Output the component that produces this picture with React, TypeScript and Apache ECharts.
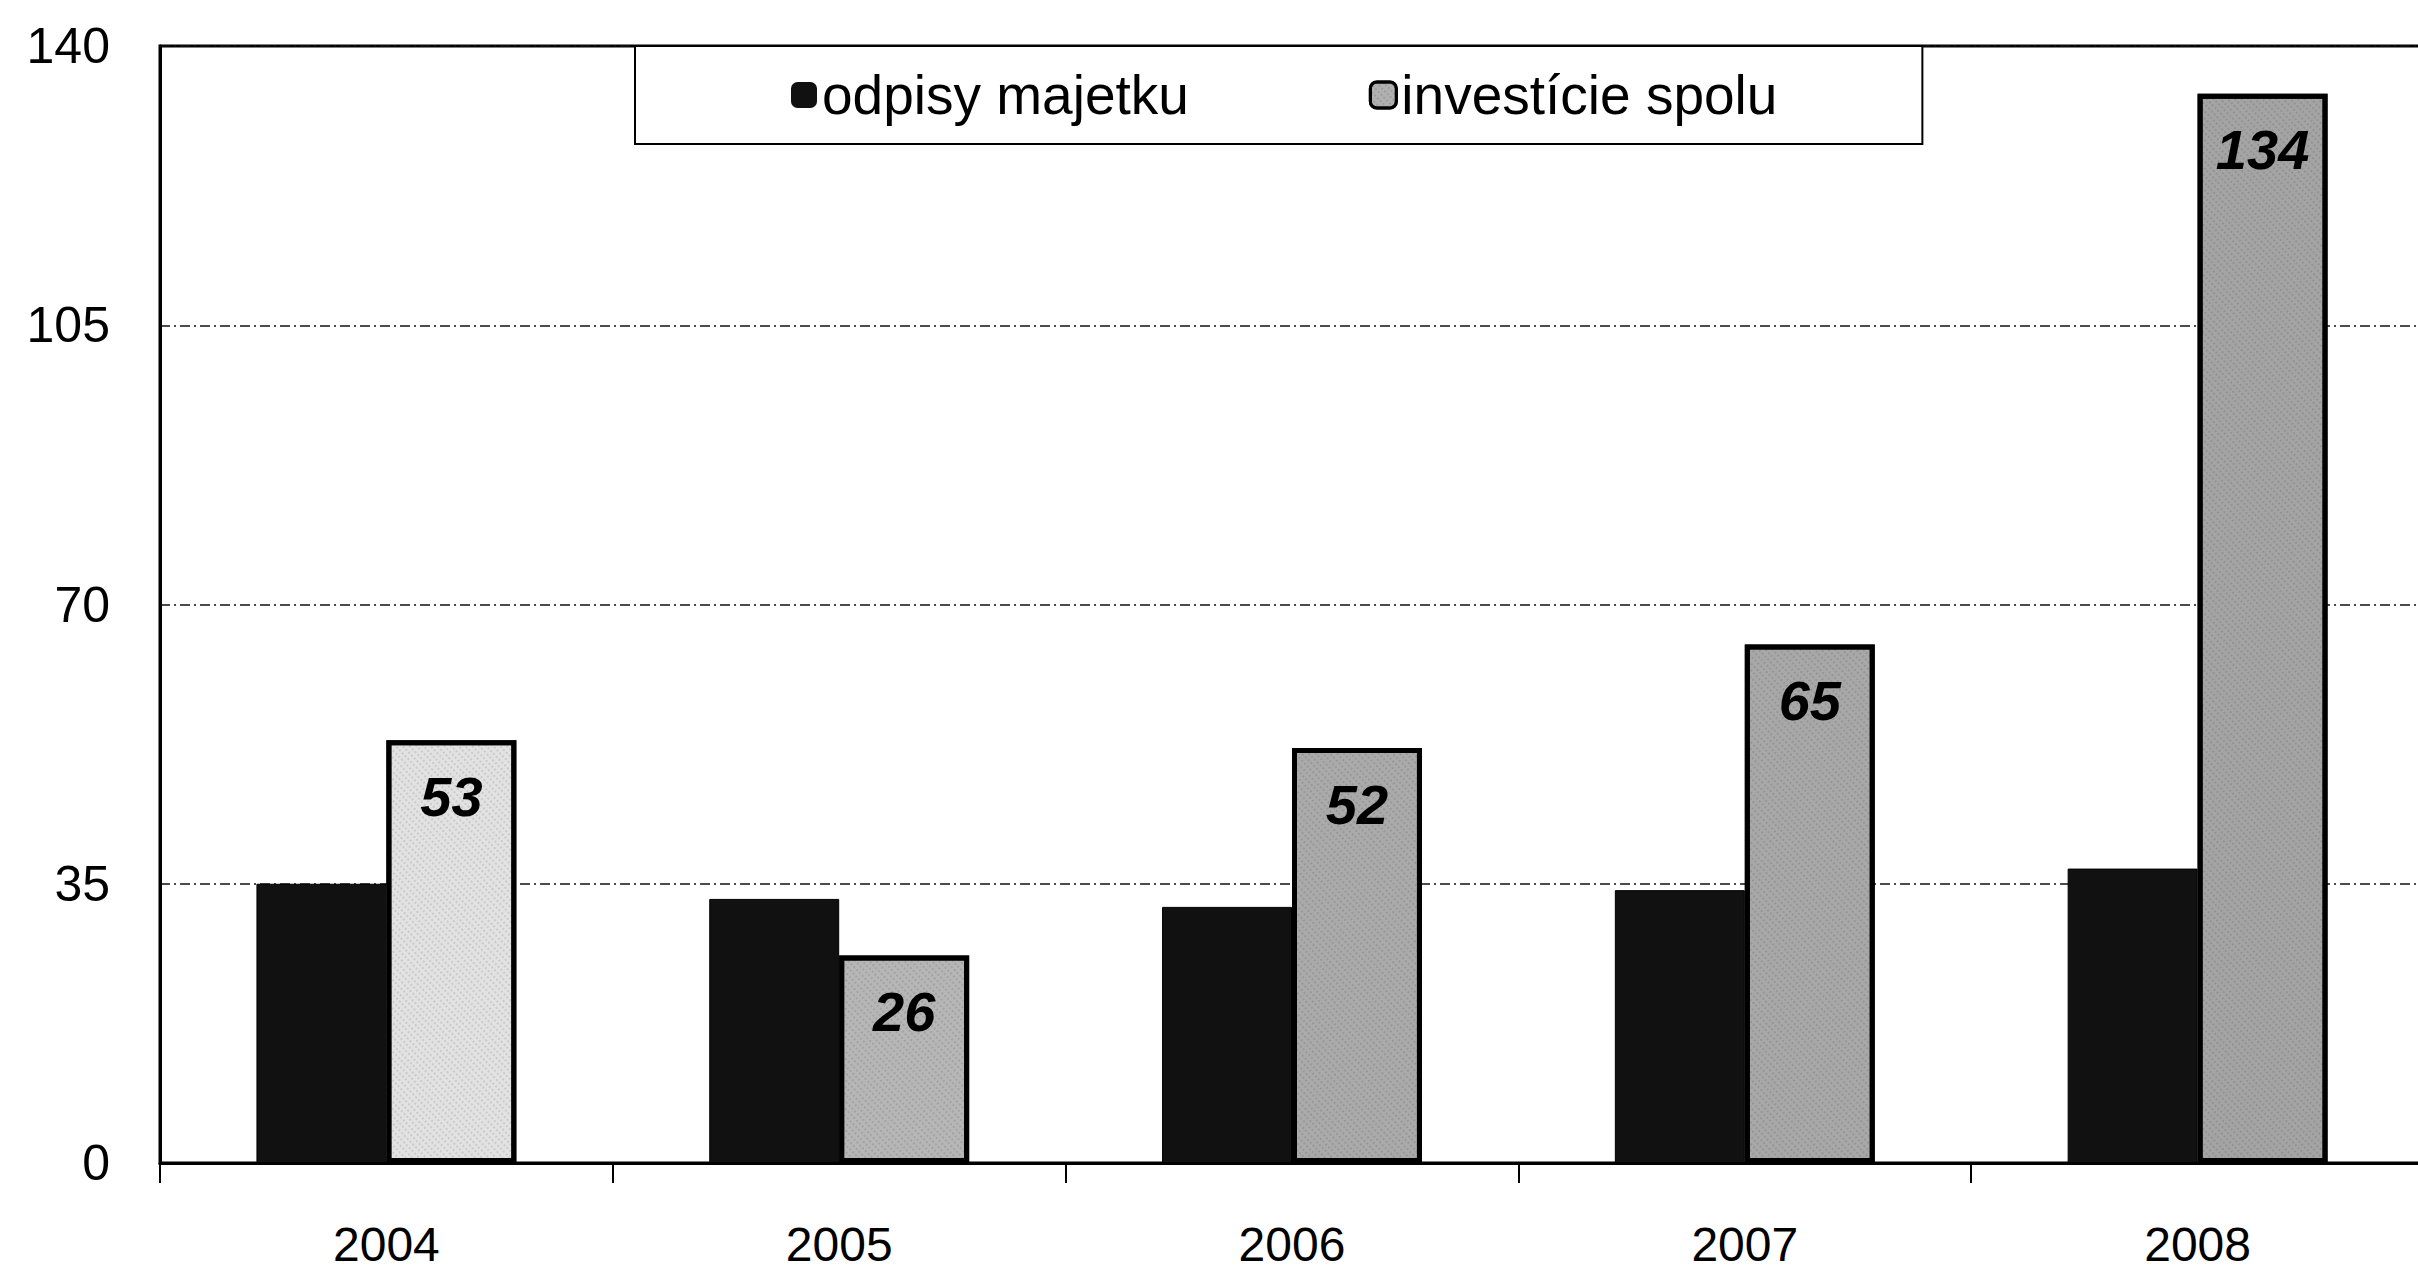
import React, { useEffect, useRef } from "react";
import * as echarts from "echarts";

const years = ["2004", "2005", "2006", "2007", "2008"];
const seriesNames = ["odpisy majetku", "investície spolu"];
const odpisy = [35.0, 33.1, 32.1, 34.2, 36.9];
const investicie = [53, 26, 52, 65, 134];
const investicieFills = ["#e2e2e2", "#b6b6b6", "#aaaaaa", "#a8a8a8", "#a4a4a4"];
const yMin = 0;
const yMax = 140;
const yStep = 35;

const FONT = "'Liberation Sans', Arial, sans-serif";

export default function App() {
  const ref = useRef<HTMLDivElement>(null);

  useEffect(() => {
    if (!ref.current) return;
    const chart = echarts.init(ref.current, undefined, { renderer: "svg" });
    const option: any = {
      animation: false,
      backgroundColor: "#ffffff",
      textStyle: { fontFamily: FONT, color: "#000" },
      grid: {
        left: 160,
        top: 46,
        right: 6,
        bottom: 113,
        show: true,
        borderColor: "#000",
        borderWidth: 3,
        backgroundColor: "transparent",
      },
      legend: {
        left: 635,
        top: 46,
        orient: "horizontal",
        padding: [21, 145, 21, 156],
        itemGap: 180,
        itemWidth: 26,
        itemHeight: 26,
        backgroundColor: "#ffffff",
        borderColor: "#000",
        borderWidth: 2,
        textStyle: { fontFamily: FONT, fontSize: 55, color: "#000", lineHeight: 56 },
        data: [
          { name: seriesNames[0], itemStyle: { color: "#111", borderWidth: 0 } },
          { name: seriesNames[1], itemStyle: { color: "#b0b0b0", borderColor: "#000", borderWidth: 3 } },
        ],
      },
      xAxis: {
        type: "category",
        data: years,
        boundaryGap: true,
        axisLine: { show: true, lineStyle: { color: "#000", width: 3 } },
        axisTick: { show: true, alignWithLabel: false, length: 20, lineStyle: { color: "#000", width: 2 } },
        axisLabel: { fontFamily: FONT, fontSize: 48, lineHeight: 50, color: "#000", margin: 56 },
        splitLine: { show: false },
      },
      yAxis: {
        type: "value",
        min: yMin,
        max: yMax,
        interval: yStep,
        axisLine: { show: true, lineStyle: { color: "#000", width: 3 } },
        axisTick: { show: false },
        axisLabel: { fontFamily: FONT, fontSize: 50, color: "#000", margin: 50 },
        splitLine: {
          show: true,
          lineStyle: { color: "#111", width: 1.5, type: [10, 4, 2, 4] },
        },
      },
      series: [
        {
          name: seriesNames[0],
          type: "bar",
          data: odpisy,
          barGap: "0%",
          barCategoryGap: "42.6%",
          itemStyle: { color: "#111", borderColor: "#000", borderWidth: 1 },
          z: 3,
        },
        {
          name: seriesNames[1],
          type: "bar",
          data: investicie.map((v, i) => ({
            value: v,
            itemStyle: { color: investicieFills[i] },
          })),
          barGap: "0%",
          barCategoryGap: "42.6%",
          itemStyle: {
            color: "#b0b0b0",
            borderColor: "#000",
            borderWidth: 5,
            decal: {
              symbol: "rect",
              symbolSize: 0.6,
              dashArrayX: [2, 2],
              dashArrayY: [2, 3],
              rotation: 0.8,
              color: "rgba(0,0,0,0.35)",
            },
          },
          label: {
            show: true,
            position: "insideTop",
            distance: 28,
            fontFamily: FONT,
            fontSize: 56,
            fontWeight: "bold",
            fontStyle: "italic",
            color: "#000",
          },
          z: 3,
        },
      ],
    };
    chart.setOption(option);
    return () => chart.dispose();
  }, []);

  return (
    <div
      style={{
        position: "fixed",
        left: 0,
        top: 0,
        width: 2418,
        height: 1276,
        overflow: "hidden",
        background: "#fff",
      }}
    >
      <div ref={ref} style={{ width: 2430, height: 1276 }} />
    </div>
  );
}
